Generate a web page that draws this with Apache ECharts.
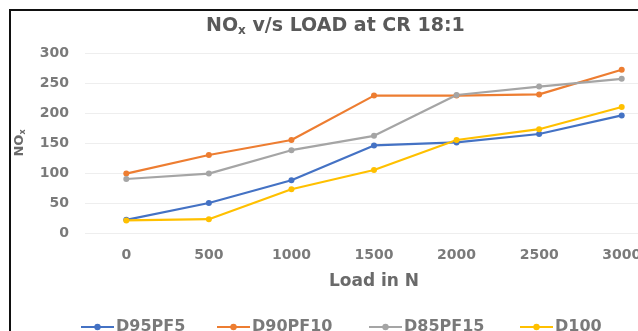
<!DOCTYPE html>
<html>
<head>
<meta charset="utf-8">
<script src="https://cdn.jsdelivr.net/npm/echarts@6/dist/echarts.min.js"></script>
<style>
html,body{margin:0;padding:0;background:#fff;}
#chart{width:638px;height:331px;}
</style>
</head>
<body>
<div id="chart"></div>
<script>
const categories = ['0', '500', '1000', '1500', '2000', '2500', '3000'];
const seriesNames = ['D95PF5', 'D90PF10', 'D85PF15', 'D100'];
const d95pf5 = [22, 50, 88, 146, 151, 165, 196];
const d90pf10 = [99, 130, 155, 229, 229, 231, 272];
const d85pf15 = [90, 99, 138, 162, 230, 244, 257];
const d100 = [21, 23, 73, 105, 155, 173, 210];
const yTicks = [0, 50, 100, 150, 200, 250, 300];
const colors = ['#4472C4', '#ED7D31', '#A5A5A5', '#FFC000'];

const FONT = 'DejaVu Sans';
const chart = echarts.init(document.getElementById('chart'), null, {renderer: 'canvas'});
const values = [d95pf5, d90pf10, d85pf15, d100];
const legendLeft = [75, 211, 363, 514];

chart.setOption({
  animation: false,
  backgroundColor: '#fff',
  color: colors,
  graphic: [{
    type: 'rect',
    shape: {x: 10, y: 10, width: 700, height: 400},
    style: {fill: 'none', stroke: '#111', lineWidth: 2},
    silent: true,
    z: 100
  }],
  title: {
    text: '{a|NO}{b|x}{a| v/s LOAD at CR 18:1}',
    left: 201,
    top: 11,
    textStyle: {
      rich: {
        a: {fontFamily: FONT, fontWeight: 'bold', fontSize: 19, color: '#5a5a5a'},
        b: {fontFamily: FONT, fontWeight: 'bold', fontSize: 12, color: '#5a5a5a', verticalAlign: 'bottom', padding: [9, 0, 0, 0]}
      }
    }
  },
  grid: {left: 85, top: 53, bottom: 98, right: -25, containLabel: false, outerBoundsMode: 'none'},
  legend: seriesNames.map((name, i) => ({
    data: [name],
    left: legendLeft[i],
    top: 314,
    itemWidth: 33,
    itemHeight: 8,
    itemGap: 0,
    textStyle: {fontFamily: FONT, fontWeight: 'bold', fontSize: 16, color: '#7a7a7a', padding: [0, 0, 0, -3]}
  })),
  xAxis: {
    type: 'category',
    data: categories,
    boundaryGap: true,
    axisLine: {show: false},
    axisTick: {show: false},
    axisLabel: {fontFamily: FONT, fontWeight: 'bold', fontSize: 14, color: '#7a7a7a', margin: 15},
    name: 'Load in N',
    nameLocation: 'middle',
    nameGap: 40,
    nameTextStyle: {fontFamily: FONT, fontWeight: 'bold', fontSize: 17, color: '#6a6a6a'}
  },
  yAxis: {
    type: 'value',
    min: 0,
    max: 300,
    interval: 50,
    axisLine: {show: false},
    axisTick: {show: false},
    splitLine: {lineStyle: {color: '#eeeeee', width: 1}},
    axisLabel: {fontFamily: FONT, fontWeight: 'bold', fontSize: 14, color: '#7a7a7a', margin: 16,
      formatter: v => yTicks.includes(v) ? String(v) : ''},
    name: '{a|NO}{b|x}',
    nameLocation: 'middle',
    nameRotate: 90,
    nameGap: 58,
    nameTextStyle: {
      rich: {
        a: {fontFamily: FONT, fontWeight: 'bold', fontSize: 13, color: '#6a6a6a'},
        b: {fontFamily: FONT, fontWeight: 'bold', fontSize: 8, color: '#6a6a6a', verticalAlign: 'bottom', padding: [6, 0, 0, 0]}
      }
    }
  },
  series: seriesNames.map((name, i) => ({
    name: name,
    type: 'line',
    data: values[i],
    symbol: 'circle',
    symbolSize: 6,
    lineStyle: {width: 2.2},
    itemStyle: {color: colors[i]}
  }))
});
</script>
</body>
</html>
